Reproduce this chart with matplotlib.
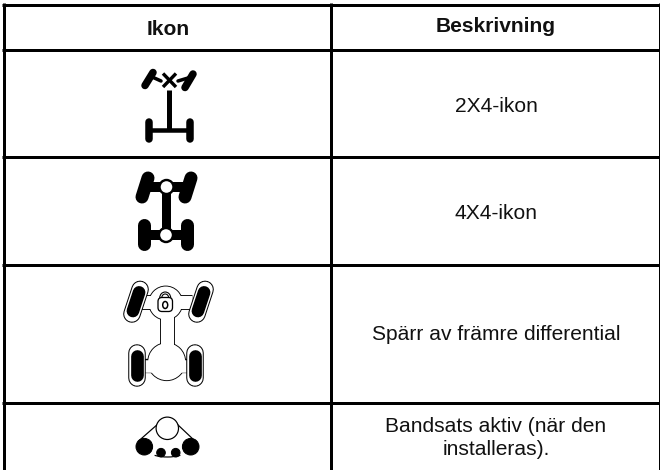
import matplotlib
matplotlib.use("Agg")
import matplotlib.pyplot as plt
from matplotlib.patches import Arc, Circle, Ellipse, FancyBboxPatch

plt.rcParams["font.family"] = ["Liberation Sans", "DejaVu Sans"]

# innehåll i tabellen
headers = ["Ikon", "Beskrivning"]
descriptions = [
    "2X4-ikon",
    "4X4-ikon",
    "Spärr av främre differential",
    "Bandsats aktiv (när den\ninstalleras).",
]

# rutnät i pixlar
row_lines = [4.5, 50, 157, 264.5, 403]
col_lines = [3.5, 331, 660]
text_baselines = [112, 219, 340, 431.7]
col_centers = [168, 496]
header_baselines = [35, 32.3]

PX = 72 / 100  # punkter per pixel vid dpi 100
FONT = 15.1
LINE_STEP = 23.3


def line(ax, xs, ys, w, color="black", cap="round", z=3):
    ax.plot(xs, ys, color=color, lw=w * PX, solid_capstyle=cap, zorder=z)


def circle(ax, x, y, r, face="black", edge="black", w=1.0, z=3):
    ax.add_patch(Circle((x, y), r, fc=face, ec=edge, lw=w * PX, zorder=z))


def icon_2x4(ax):
    line(ax, [153, 145], [72.5, 85.5], 7.5)
    line(ax, [193, 185], [74, 87.5], 7.5)
    line(ax, [150, 161], [76, 81], 3.5)
    line(ax, [178, 188], [81, 78], 3.5)
    line(ax, [163, 176], [73.5, 87], 3.4, cap="butt")
    line(ax, [176, 163], [73.5, 87], 3.4, cap="butt")
    line(ax, [169, 169], [90, 130], 5, cap="butt")
    line(ax, [149, 190], [130, 130], 4.5, cap="butt")
    line(ax, [149, 149], [122, 139], 7.5)
    line(ax, [190, 190], [122, 139], 7.5)


def icon_4x4(ax):
    line(ax, [148, 142], [178, 197], 13)
    line(ax, [191, 185], [178, 197], 13)
    line(ax, [144, 144], [225, 244], 13)
    line(ax, [187, 187], [225, 244], 13)
    line(ax, [148, 187], [187, 187], 10, cap="butt")
    line(ax, [146, 185], [235, 235], 10, cap="butt")
    line(ax, [166, 166], [187, 235], 9, cap="butt")
    circle(ax, 166.5, 187, 7, face="white", w=2.4, z=4)
    circle(ax, 166, 235, 7, face="white", w=2.4, z=4)


def wheel(ax, cx, cy, tilt):
    # svart kant, vit ring, svart kärna
    for h, w, color, z in [(12.3, 17.5, "black", 5), (12.3, 15.5, "white", 6), (9.3, 12.7, "black", 7)]:
        line(ax, [cx + tilt * h, cx - tilt * h], [cy - h, cy + h], w, color=color, z=z)


def icon_lock(ax):
    wheel(ax, 136, 301.7, 0.33)
    wheel(ax, 201, 301.7, 0.33)
    wheel(ax, 136.7, 365.7, 0)
    wheel(ax, 195, 365.7, 0)
    # karossen ritas svart och sedan vit ovanpå
    parts = [
        ([140, 192], [301.5, 301.5], 13),
        ([166.7, 166.7], [303, 362], 13),
        ([144, 188], [365.5, 365.5], 12.5),
    ]
    for color, extra, z in [("black", 1.8, 3), ("white", 0, 4)]:
        for xs, ys, w in parts:
            line(ax, xs, ys, w + extra, color=color, cap="butt", z=z)
        ax.add_patch(Circle((165.7, 303), 16.5 + extra / 2, fc=color, lw=0, zorder=z))
        ax.add_patch(Circle((166.7, 361.7), 18.5 + extra / 2, fc=color, lw=0, zorder=z))
    # hänglås
    ax.add_patch(FancyBboxPatch((158, 297.5), 14.5, 14, boxstyle="round,pad=0,rounding_size=4",
                                fc="white", ec="black", lw=1.3 * PX, zorder=9))
    ax.add_patch(Arc((165.2, 298), 11, 12, theta1=180, theta2=360, ec="black", lw=1.1 * PX, zorder=8))
    ax.add_patch(Arc((165.2, 298), 7, 8, theta1=180, theta2=360, ec="black", lw=1.1 * PX, zorder=8))
    ax.add_patch(Ellipse((165.2, 305), 5, 7, fc="white", ec="black", lw=1.5 * PX, zorder=10))


def icon_track(ax):
    line(ax, [158.5, 138], [423.5, 441.5], 1.2, cap="butt")
    line(ax, [176.5, 195.5], [423.5, 441.5], 1.2, cap="butt")
    ax.add_patch(Arc((167.5, 440), 60, 34, theta1=50, theta2=130, ec="black", lw=1.2 * PX, zorder=3))
    circle(ax, 167.3, 428.3, 11.2, face="white", w=1.2, z=4)
    circle(ax, 144.3, 446.7, 8.3, z=4)
    circle(ax, 190.7, 446.7, 8.3, z=4)
    circle(ax, 161, 452.7, 4.3, z=4)
    circle(ax, 175.7, 452.7, 4.3, z=4)


fig = plt.figure(figsize=(6.6, 4.7), dpi=100)
ax = fig.add_axes([0, 0, 1, 1])
ax.set_xlim(0, 660)
ax.set_ylim(470, 0)
ax.axis("off")

# tabellens linjer, utan nederkant
for y in row_lines:
    ax.plot([2, 660], [y, y], color="black", lw=3 * PX, solid_capstyle="butt", zorder=2)
for x in col_lines:
    ax.plot([x, x], [3, 470], color="black", lw=3 * PX, solid_capstyle="butt", zorder=2)

for x, y, h in zip(col_centers, header_baselines, headers):
    ax.text(x, y, h, ha="center", va="baseline", fontsize=FONT, fontweight="bold", color="#111111")

for y, d in zip(text_baselines, descriptions):
    for i, part in enumerate(d.split("\n")):
        ax.text(col_centers[1], y + i * LINE_STEP, part, ha="center", va="baseline",
                fontsize=FONT, color="#111111")

icon_2x4(ax)
icon_4x4(ax)
icon_lock(ax)
icon_track(ax)

plt.savefig("out.png", dpi=100)
plt.close()
